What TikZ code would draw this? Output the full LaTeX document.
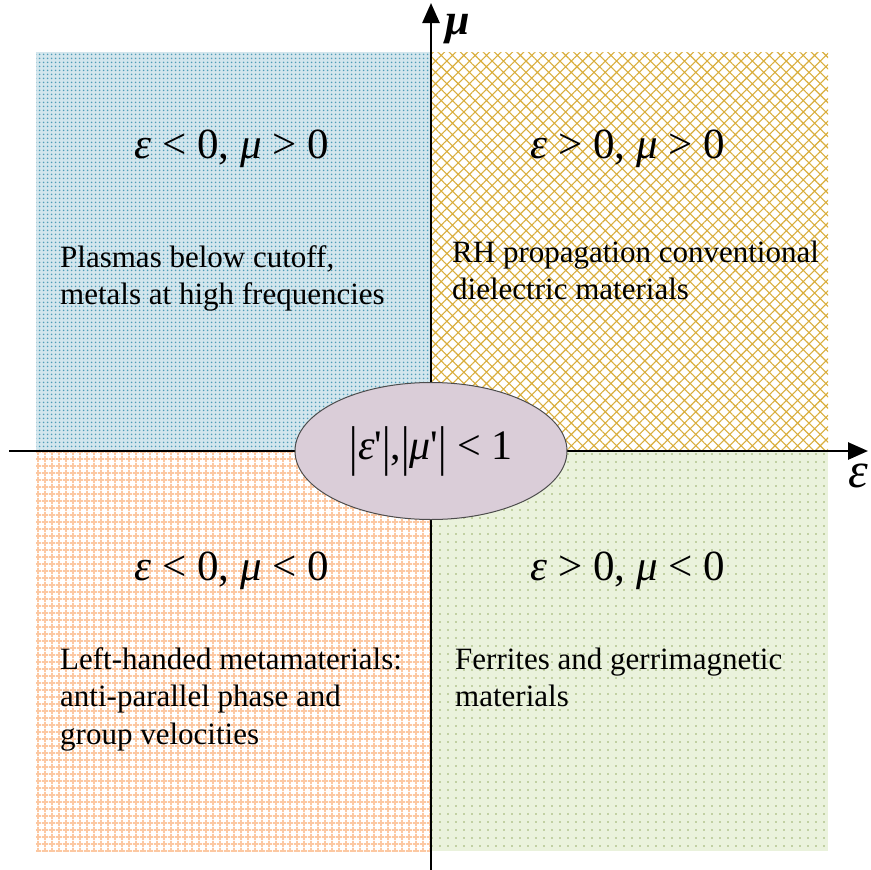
\documentclass[tikz,border=0pt]{standalone}
\usepackage{fontspec}
\setmainfont{Liberation Serif}
\usetikzlibrary{patterns.meta,arrows.meta,shapes.geometric}
\definecolor{tlbg}{HTML}{D3E6ED}
\definecolor{tlfg}{HTML}{4F9DB8}
\definecolor{trfg}{HTML}{D9AE3C}
\definecolor{blfg}{HTML}{FCC8A2}
\definecolor{brbg}{HTML}{EAF2DC}
\definecolor{brfg}{HTML}{98AE68}
\definecolor{ellcol}{HTML}{DACDD8}
\newcommand{\tallbar}{\raisebox{-0.12em}{\scalebox{1}[1.3]{|}}}
\newcommand{\rsp}{\hspace{0.25em}}
\tikzset{
  body/.style={font=\fontsize{31}{36}\selectfont, anchor=base west, inner sep=0pt},
  quadlabel/.style={font=\fontsize{43}{48}\selectfont, anchor=base, inner sep=0pt},
  axis/.style={line width=2.6pt, -{Triangle[length=20pt,width=17pt]}},
}
\begin{document}
\begin{tikzpicture}[x=1pt,y=-1pt]
\useasboundingbox (0,0) rectangle (870,870);
% quadrants
\path[preaction={fill=tlbg}, pattern={Dots[distance=4pt,radius=1.1pt]}, pattern color=tlfg] (36,52) rectangle (431,450);
\path[preaction={fill=white}, pattern={Hatch[angle=45,distance=8pt,line width=1.1pt]}, pattern color=trfg] (431,52) rectangle (828,450);
\path[preaction={fill=white}, pattern={Hatch[angle=0,distance=6.5pt,line width=1.8pt]}, pattern color=blfg] (36,450) rectangle (431,851);
\path[preaction={fill=brbg}, pattern={Dots[distance=8pt,radius=0.9pt]}, pattern color=brfg] (431,450) rectangle (828,851);
% axes
\coordinate (hx0) at (9,451);
\coordinate (hx1) at (868,451);
\coordinate (vy0) at (431,872);
\coordinate (vy1) at (431,3);
\draw[axis] (hx0) -- (hx1);
\draw[axis] (vy0) -- (vy1);
\node[font=\fontsize{44}{48}\selectfont\bfseries\itshape, inner sep=0pt, anchor=base west] (mulab) at (445,34) {μ};
\node[font=\fontsize{50}{54}\selectfont\itshape, inner sep=0pt, anchor=base west] (epslab) at (848,487) {ε};
% ellipse
\node[ellipse, draw=black!70, line width=1pt, fill=ellcol, minimum width=272pt, minimum height=137pt, inner sep=0pt,
      font=\fontsize{42}{46}\selectfont] (ell) at (431,451)
      {\tallbar{\itshape ε}\textquotesingle\tallbar,\tallbar{\itshape μ}\textquotesingle\tallbar\rsp<\rsp1};
% quadrant labels
\node[quadlabel] (q1) at (232,158) {{\itshape ε}\rsp<\rsp0, {\itshape μ}\rsp>\rsp0};
\node[quadlabel] (q2) at (628,158) {{\itshape ε}\rsp>\rsp0, {\itshape μ}\rsp>\rsp0};
\node[quadlabel] (q3) at (232,580) {{\itshape ε}\rsp<\rsp0, {\itshape μ}\rsp<\rsp0};
\node[quadlabel] (q4) at (628,580) {{\itshape ε}\rsp>\rsp0, {\itshape μ}\rsp<\rsp0};
% descriptions
\node[body] (t1a) at (60,267) {Plasmas below cutoff,};
\node[body] (t1b) at (60,304) {metals at high frequencies};
\node[body] (t2a) at (452,262) {RH propagation conventional};
\node[body] (t2b) at (452,299) {dielectric materials};
\node[body] (t3a) at (60,669) {Left-handed metamaterials:};
\node[body] (t3b) at (60,706) {anti-parallel phase and};
\node[body] (t3c) at (60,744) {group velocities};
\node[body] (t4a) at (455,669) {Ferrites and gerrimagnetic};
\node[body] (t4b) at (455,706) {materials};
\end{tikzpicture}
\end{document}
